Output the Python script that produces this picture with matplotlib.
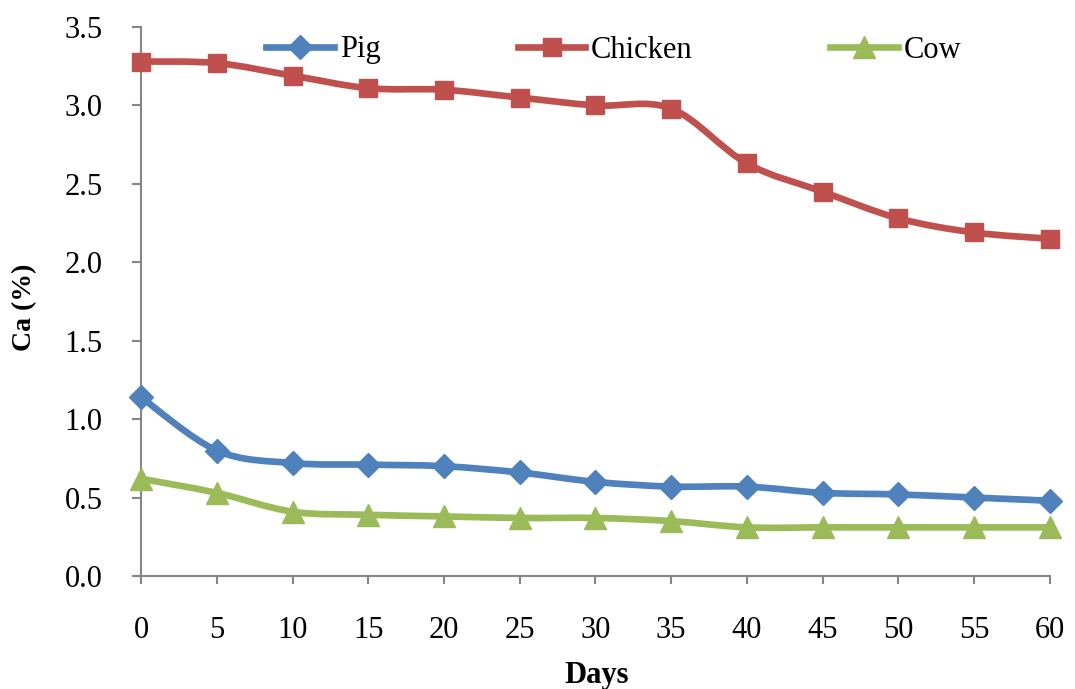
import matplotlib
matplotlib.use('Agg')
import matplotlib.pyplot as plt
from matplotlib.path import Path
from matplotlib.patches import PathPatch
from matplotlib.lines import Line2D
import numpy as np

plt.rcParams['font.family'] = ['Liberation Serif', 'DejaVu Serif']

days = [0, 5, 10, 15, 20, 25, 30, 35, 40, 45, 50, 55, 60]
pig = [1.14, 0.80, 0.72, 0.71, 0.70, 0.66, 0.60, 0.57, 0.57, 0.53, 0.52, 0.50, 0.48]
chicken = [3.28, 3.27, 3.19, 3.11, 3.10, 3.05, 3.00, 2.98, 2.63, 2.45, 2.28, 2.19, 2.15]
cow = [0.62, 0.53, 0.41, 0.39, 0.38, 0.37, 0.37, 0.35, 0.31, 0.31, 0.31, 0.31, 0.31]
yticks = [0.0, 0.5, 1.0, 1.5, 2.0, 2.5, 3.0, 3.5]

series = [('Pig', pig, '#4F81BD', 'D', 12),
          ('Chicken', chicken, '#C0504D', 's', 12.5),
          ('Cow', cow, '#9BBB59', '^', 16)]


def smooth_path(xs, ys):
    # Excel-style smoothed line as cubic bezier segments
    pts = np.column_stack([xs, ys]).astype(float)
    n = len(pts)
    verts = [pts[0]]
    codes = [Path.MOVETO]
    for i in range(n - 1):
        p0, p1 = pts[i], pts[i + 1]
        pm = pts[i - 1] if i > 0 else p0
        pp = pts[i + 2] if i + 2 < n else p1
        c1 = p0 + (p1 - pm) / 6.0
        c2 = p1 - (pp - p0) / 6.0
        verts += [c1, c2, p1]
        codes += [Path.CURVE4] * 3
    return Path(verts, codes)


fig = plt.figure(figsize=(10.75, 6.89), dpi=100)
ax = fig.add_axes([0.1312, 0.164, 0.8455, 0.7968])

handles = []
for name, vals, col, mk, ms in series:
    patch = PathPatch(smooth_path(days, vals), fill=False, edgecolor=col,
                      lw=4.8, capstyle='round', joinstyle='round',
                      transform=ax.transData, clip_on=False, zorder=3)
    ax.add_patch(patch)
    ax.plot(days, vals, linestyle='none', marker=mk, markersize=ms,
            color=col, clip_on=False, zorder=4)
    handles.append(Line2D([], [], color=col, lw=4.8, marker=mk,
                          markersize=ms, label=name))

ax.set_xlim(0, 60)
ax.set_ylim(0, 3.5)
ax.set_xticks(days)
ax.set_yticks(yticks)
ax.set_yticklabels(['%.1f' % v for v in yticks], fontsize=22)
ax.set_xticklabels([str(d) for d in days], fontsize=22)

for s in ['top', 'right']:
    ax.spines[s].set_visible(False)
for s in ['left', 'bottom']:
    ax.spines[s].set_color('#868686')
    ax.spines[s].set_linewidth(1.5)
ax.tick_params(axis='y', direction='out', length=6.5, width=1.5,
               color='#868686', pad=21)
ax.tick_params(axis='x', direction='out', length=6, width=1.5,
               color='#868686', pad=23)

fig.text(0.555, 1 - 683 / 689, 'Days', fontsize=22, fontweight='bold',
         ha='center', va='baseline')
fig.text(25 / 1075, 1 - 307 / 689, 'Ca (%)', fontsize=20, fontweight='bold',
         rotation=90, ha='center', va='center')

fig.legend(handles=handles, loc='center', bbox_to_anchor=(0.571, 1 - 50 / 689),
           ncol=3, frameon=False, fontsize=22, handlelength=2.2,
           handletextpad=0.2, columnspacing=4.5, numpoints=1)

fig.savefig('out.png', dpi=100)
